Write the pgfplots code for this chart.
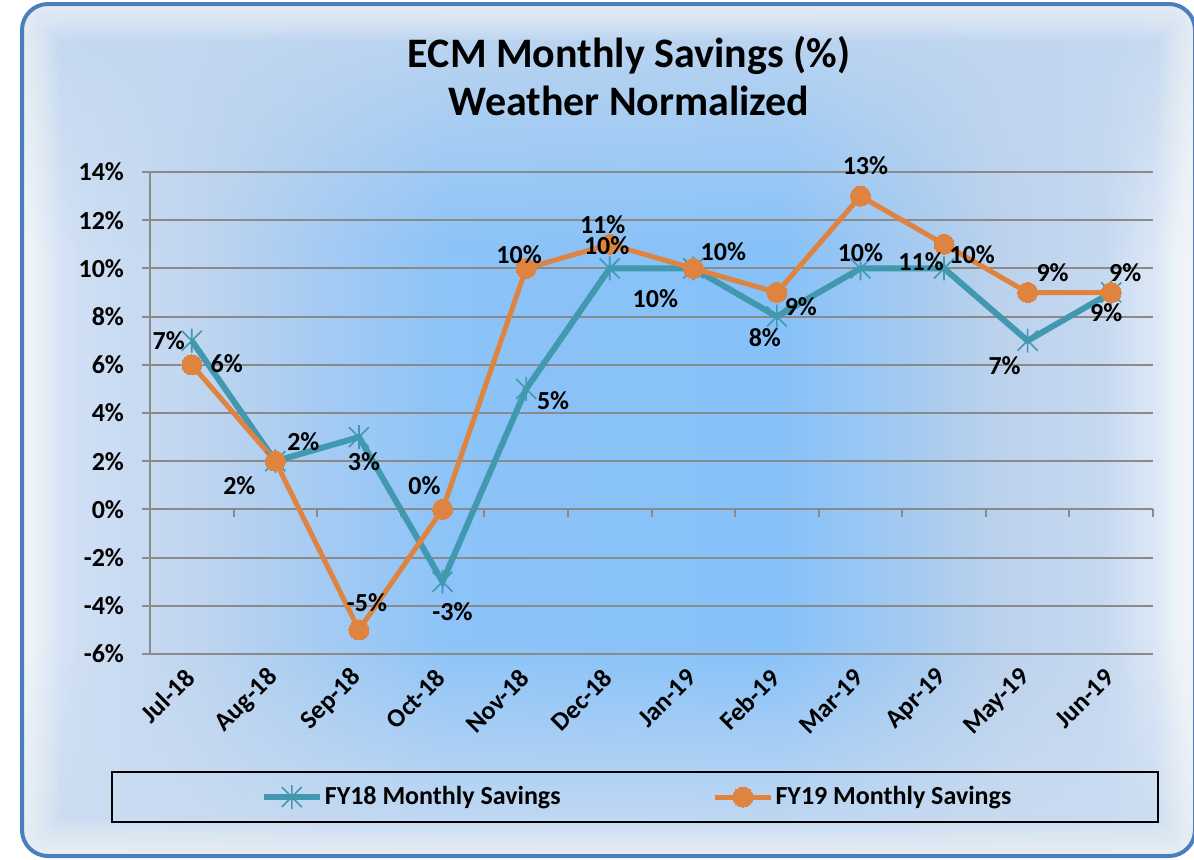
\documentclass[border=0pt]{standalone}
\usepackage{pgfplots}
\pgfplotsset{compat=1.18}
\usepackage{pgfplotstable}
\usepackage{fontspec}
\setmainfont{Carlito}
\usetikzlibrary{fadings}

\definecolor{framecol}{HTML}{4A7EBC}
\definecolor{gridgray}{HTML}{8A8A8A}
\definecolor{teal18}{HTML}{4198AF}
\definecolor{orange19}{HTML}{DE8340}
\definecolor{topcol}{HTML}{C2D7EF}
\definecolor{botcol}{HTML}{CADCF1}
\definecolor{b0}{HTML}{E4EDF9}
\definecolor{b1}{HTML}{CFDFF4}
\definecolor{b2}{HTML}{BFD5EF}
\definecolor{b3}{HTML}{A5CBF3}
\definecolor{b4}{HTML}{8CC3F8}
\definecolor{b5}{HTML}{86C1F9}
\definecolor{b6}{HTML}{A2C9F1}
\definecolor{b7}{HTML}{BCD2EC}
\definecolor{b8}{HTML}{C5D8F0}
\definecolor{b9}{HTML}{EDF3FB}

\pgfdeclarehorizontalshading{bgh}{100bp}{color(0bp)=(b0); color(25bp)=(b0); color(27.5bp)=(b1); color(32.6bp)=(b2); color(37.7bp)=(b3); color(43.2bp)=(b4); color(57.3bp)=(b5); color(62.4bp)=(b6); color(66.7bp)=(b7); color(71bp)=(b8); color(75bp)=(b9); color(100bp)=(b9)}

\tikzfading[name=fadetop, top color=transparent!0, bottom color=transparent!100]
\tikzfading[name=fadebot, top color=transparent!100, bottom color=transparent!0]

\pgfdeclareplotmark{xstar}{%
  \pgfpathmoveto{\pgfqpoint{-\pgfplotmarksize}{-\pgfplotmarksize}}%
  \pgfpathlineto{\pgfqpoint{\pgfplotmarksize}{\pgfplotmarksize}}%
  \pgfpathmoveto{\pgfqpoint{-\pgfplotmarksize}{\pgfplotmarksize}}%
  \pgfpathlineto{\pgfqpoint{\pgfplotmarksize}{-\pgfplotmarksize}}%
  \pgfpathmoveto{\pgfqpoint{0pt}{-1.2\pgfplotmarksize}}%
  \pgfpathlineto{\pgfqpoint{0pt}{1.2\pgfplotmarksize}}%
  \pgfusepathqstroke}

\pgfplotstableread{
x y sx sy lab
1 7 -11.5 0 7
2 2 14 10 2
3 3 2.5 -12.5 3
4 -3 5 -15 -3
5 5 13.5 -6 5
6 10 -1.5 11.5 10
7 10 -19 -15 10
8 8 -6 -10.5 8
9 10 0 8 10
10 10 14 7 10
11 7 -11.5 -12.5 7
12 9 -2.5 -10 9
}\fyeighteen

\pgfplotstableread{
x y sx sy lab
1 6 17.5 0.5 6
2 2 -18 -12 2
3 -5 4 13.5 -5
4 0 -9 12 0
5 10 -3.5 7 10
6 11 -3.5 10 11
7 10 15 8.5 10
8 9 12 -7 9
9 13 2.5 15 13
10 11 -11.5 -8.5 11
11 9 12.5 10 9
12 9 7 10 9
}\fynineteen

\newcommand{\lblfont}{\bfseries\fontsize{13}{15}\selectfont}

\pgfplotsset{
  labelonly/.style={draw=none, mark=none, forget plot,
    nodes near coords={\pgfplotspointmeta\%},
    point meta=explicit symbolic,
    visualization depends on={\thisrow{sx} \as \sx},
    visualization depends on={\thisrow{sy} \as \sy},
    every node near coord/.append style={font=\lblfont, text=black, anchor=center, xshift=\sx pt, yshift=\sy pt, inner sep=0pt}}
}

\begin{document}
\begin{tikzpicture}
\useasboundingbox (0,0) rectangle (597pt,-429.5pt);
\begin{scope}
  \clip[rounded corners=13pt] (11pt,-2pt) rectangle (597.5pt,-428pt);
  \shade[shading=bgh] (11pt,-2pt) rectangle (597.5pt,-428pt);
  \fill[topcol, path fading=fadetop] (11pt,-2pt) rectangle (597.5pt,-125pt);
  \fill[botcol, path fading=fadebot] (11pt,-320pt) rectangle (597.5pt,-428pt);
  \foreach \w in {3,6,...,36}{
    \draw[white, opacity=0.075, line width=\w pt, rounded corners=13pt] (11pt,-2pt) rectangle (597.5pt,-428pt);
  }
\end{scope}
\draw[framecol, line width=2pt, rounded corners=13pt] (11pt,-2pt) rectangle (597.5pt,-428pt);

\node[align=center, font=\bfseries\fontsize{21}{24}\selectfont] at (314.5pt,-38pt) {ECM Monthly Savings (\%)\\Weather Normalized};

\draw[black, line width=0.9pt] (56pt,-386pt) rectangle (579pt,-411pt);

\begin{axis}[
  at={(75pt,-327pt)}, anchor=south west,
  scale only axis, width=501.5pt, height=241pt,
  xmin=0.5, xmax=12.5, ymin=-6, ymax=14,
  clip=false,
  axis x line*=bottom, axis y line*=left,
  axis line style={draw=gridgray, line width=1pt},
  x axis line style={draw=none},
  xtick={1,...,12},
  xticklabels={Jul-18,Aug-18,Sep-18,Oct-18,Nov-18,Dec-18,Jan-19,Feb-19,Mar-19,Apr-19,May-19,Jun-19},
  xtick style={draw=none},
  xticklabel style={font=\lblfont, rotate=45, anchor=east, inner sep=1pt},
  xticklabel shift=5pt,
  ytick={-6,-4,...,14},
  yticklabels={-6\%,-4\%,-2\%,0\%,2\%,4\%,6\%,8\%,10\%,12\%,14\%},
  yticklabel style={font=\lblfont, xshift=-5.5pt},
  tick align=outside,
  major tick length=4pt,
  ytick style={draw=gridgray, line width=1pt},
  ymajorgrids,
  grid style={draw=gridgray, line width=1pt},
  legend columns=2,
  legend style={at={(axis description cs:0.4856,-0.2967)}, anchor=center, draw=none, fill=none, font=\lblfont, inner sep=0pt,
    /tikz/every even column/.append style={column sep=75pt},
    nodes={inner sep=1pt}},
  legend image code/.code={\draw[mark repeat=2, mark phase=2, #1] plot coordinates {(0pt,0pt) (14pt,0pt) (28pt,0pt)};},
]
\draw[gridgray, line width=1pt] (axis cs:0.5,0) -- (axis cs:12.5,0);
\pgfplotsinvokeforeach{0.5,1.5,2.5,3.5,4.5,5.5,6.5,7.5,8.5,9.5,10.5,11.5,12.5}{
  \draw[gridgray, line width=1pt] (axis cs:#1,0) -- ++(0pt,-4pt);
}
\addplot[teal18, line width=3pt, mark=xstar, mark size=5pt, mark options={line width=0.8pt}]
  table[x=x, y=y] {\fyeighteen};
\addlegendentry{FY18 Monthly Savings}
\addplot[orange19, line width=2.5pt, mark=*, mark size=5pt, mark options={line width=0pt}]
  table[x=x, y=y] {\fynineteen};
\addlegendentry{FY19 Monthly Savings}
\addplot[labelonly] table[x=x, y=y, meta=lab] {\fyeighteen};
\addplot[labelonly] table[x=x, y=y, meta=lab] {\fynineteen};
\end{axis}
\end{tikzpicture}
\end{document}
